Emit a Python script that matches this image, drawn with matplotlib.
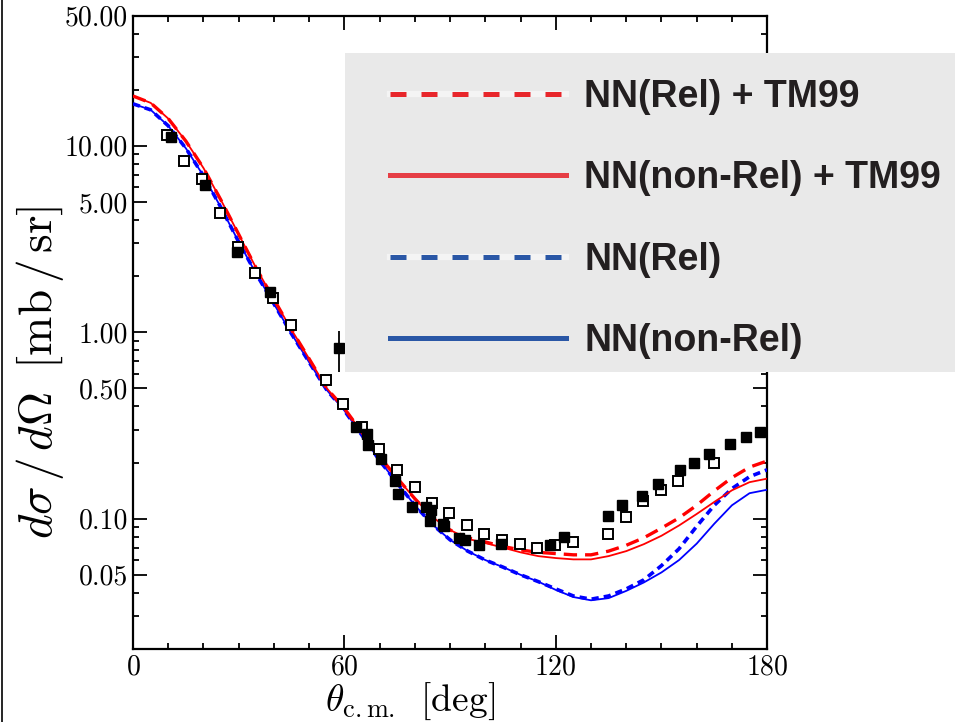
import matplotlib
matplotlib.use("Agg")
import matplotlib.pyplot as plt
from matplotlib.lines import Line2D
from matplotlib.patches import Rectangle
from matplotlib.ticker import LogLocator, NullFormatter, MultipleLocator

plt.rcParams['font.family'] = 'cmr10'
plt.rcParams['mathtext.fontset'] = 'cm'
plt.rcParams['axes.formatter.use_mathtext'] = True

# theory curves, every 5 degrees
theta = [0, 5, 10, 15, 20, 25, 30, 35, 40, 45, 50, 55, 60, 65, 70, 75, 80, 85, 90,
         95, 100, 105, 110, 115, 120, 125, 130, 135, 140, 145, 150, 155, 160, 165,
         170, 175, 180]
rel_tm99 = [18.5, 17.0, 14.0, 10.6, 7.6, 5.1, 3.35, 2.2, 1.5, 1.03, 0.72, 0.50, 0.39,
            0.29, 0.215, 0.165, 0.128, 0.102, 0.087, 0.079, 0.075, 0.071, 0.068, 0.066,
            0.065, 0.064, 0.064, 0.067, 0.072, 0.079, 0.089, 0.101, 0.118, 0.141,
            0.166, 0.189, 0.204]
nonrel_tm99 = [18.5, 17.0, 14.0, 10.6, 7.6, 5.1, 3.35, 2.2, 1.5, 1.03, 0.72, 0.50, 0.39,
               0.29, 0.215, 0.165, 0.128, 0.102, 0.087, 0.078, 0.074, 0.070, 0.066, 0.063,
               0.0615, 0.0605, 0.0605, 0.063, 0.067, 0.073, 0.081, 0.092, 0.106, 0.123,
               0.142, 0.157, 0.164]
rel = [16.8, 15.6, 12.8, 9.7, 6.9, 4.65, 3.05, 2.05, 1.42, 0.98, 0.69, 0.49, 0.38,
       0.28, 0.205, 0.155, 0.118, 0.093, 0.077, 0.067, 0.060, 0.055, 0.050, 0.046,
       0.042, 0.0385, 0.037, 0.0385, 0.042, 0.047, 0.056, 0.069, 0.091, 0.118,
       0.145, 0.168, 0.183]
nonrel = [16.8, 15.6, 12.8, 9.7, 6.9, 4.65, 3.05, 2.05, 1.42, 0.98, 0.69, 0.49, 0.38,
          0.28, 0.205, 0.155, 0.118, 0.093, 0.077, 0.067, 0.060, 0.055, 0.050, 0.046,
          0.0415, 0.038, 0.0365, 0.0375, 0.041, 0.0455, 0.0515, 0.060, 0.0735, 0.094,
          0.118, 0.137, 0.143]

# data, filled squares
fill_x = [10.8, 20.4, 29.5, 38.9, 63.3, 66.5, 66.6, 70.4, 74.5, 75.2, 79.2, 83.2,
          84.5, 84.3, 88.1, 88.3, 92.4, 94.3, 98.2, 104.5, 118.4, 122.4, 134.9,
          138.7, 144.6, 149.1, 155.2, 159.3, 163.4, 169.5, 174.1, 178.0]
fill_y = [11.2, 6.2, 2.71, 1.65, 0.310, 0.285, 0.250, 0.210, 0.159, 0.135, 0.115,
          0.116, 0.112, 0.097, 0.094, 0.091, 0.079, 0.077, 0.072, 0.073, 0.072,
          0.080, 0.103, 0.119, 0.133, 0.154, 0.183, 0.200, 0.223, 0.252, 0.274, 0.290]
# the one filled point with a big error bar
err_x = [58.5]
err_y = [0.82]
err_lo = [0.21]
err_hi = [0.20]

# data, open squares
open_x = [9.6, 14.6, 19.7, 24.7, 29.7, 34.6, 39.8, 44.8, 54.7, 59.7, 64.9, 69.8,
          74.9, 79.9, 84.8, 89.8, 94.7, 99.7, 104.8, 109.9, 114.8, 119.8, 124.8,
          134.9, 139.9, 144.9, 149.8, 154.8, 164.9]
open_y = [11.5, 8.27, 6.66, 4.37, 2.88, 2.08, 1.52, 1.09, 0.556, 0.414, 0.310, 0.236,
          0.183, 0.148, 0.122, 0.107, 0.093, 0.083, 0.077, 0.073, 0.070, 0.072,
          0.075, 0.083, 0.102, 0.125, 0.143, 0.159, 0.200]

ytick_vals = [0.05, 0.1, 0.5, 1, 5, 10, 50]
ytick_labels = ['0.05', '0.10', '0.50', '1.00', '5.00', '10.00', '50.00']
xtick_vals = [0, 60, 120, 180]

labels = ['NN(Rel) + TM99', 'NN(non-Rel) + TM99', 'NN(Rel)', 'NN(non-Rel)']

fig = plt.figure(figsize=(9.55, 7.22), dpi=100)
ax = fig.add_axes([0.1393, 0.1011, 0.664, 0.8774])

ax.plot(theta, nonrel, color='#0000ff', lw=1.3, zorder=3)
ax.plot(theta, rel, color='#0000ff', lw=2.6, dashes=(2.0, 1.4), zorder=3)
ax.plot(theta, nonrel_tm99, color='#ff0000', lw=1.3, zorder=3)
ax.plot(theta, rel_tm99, color='#ff0000', lw=2.4, dashes=(4.0, 2.4), zorder=3)

ax.plot(open_x, open_y, 's', ms=7.8, mfc='white', mec='black', mew=1.4, zorder=4)
ax.plot(fill_x, fill_y, 's', ms=7.8, mfc='black', mec='black', zorder=5)
ax.errorbar(err_x, err_y, yerr=[err_lo, err_hi], fmt='s', ms=7.8, color='black',
            elinewidth=1.3, capsize=0, zorder=5)

ax.set_yscale('log')
ax.set_xlim(0, 180)
ax.set_ylim(0.02, 50)
ax.set_xticks(xtick_vals)
ax.xaxis.set_minor_locator(MultipleLocator(10))
ax.set_yticks(ytick_vals, labels=ytick_labels)
ax.yaxis.set_minor_locator(LogLocator(base=10, subs=range(2, 10)))
ax.yaxis.set_minor_formatter(NullFormatter())

ax.tick_params(which='both', direction='in', top=True, right=True, width=1.3,
               labelsize=20, colors='black')
ax.tick_params(which='major', length=10)
ax.tick_params(which='minor', length=4)
ax.tick_params(axis='x', pad=4)
for s in ax.spines.values():
    s.set_linewidth(1.6)

ax.set_xlabel(r'$\theta_{\mathrm{c.m.}}\;\;[\mathrm{deg}]$', fontsize=27, va='top')
ax.xaxis.set_label_coords(0.437, -0.05)
ax.set_ylabel(r'$d\sigma\,/\,d\Omega\;\;[\mathrm{mb\,/\,sr}]$', fontsize=34, va='center')
ax.yaxis.set_label_coords(-0.147, 0.437)

# grey legend panel, pasted over the top right
fig.add_artist(Rectangle((345 / 955, 1 - 372 / 722), 0.7, (372 - 53) / 722,
                         transform=fig.transFigure, facecolor='#e9e9e9',
                         edgecolor='none', zorder=1))

bg = dict(color='#f4f4f4', lw=4.5)
handles = [
    (Line2D([], [], **bg), Line2D([], [], color='#e8262b', lw=3.6, dashes=(3.2, 3.0))),
    Line2D([], [], color='#e63e45', lw=3.6),
    (Line2D([], [], **bg), Line2D([], [], color='#2a57a6', lw=3.6, dashes=(3.2, 3.0))),
    Line2D([], [], color='#2a57a6', lw=3.6),
]
fig.legend(handles, labels, loc='upper left', bbox_to_anchor=(390 / 955, 1 - 79 / 722),
           bbox_transform=fig.transFigure, frameon=False, borderpad=0, borderaxespad=0,
           handlelength=4.7, handletextpad=0.48, labelspacing=1.21,
           prop={'family': 'Liberation Sans', 'weight': 'bold', 'size': 27},
           labelcolor='#231f20')

# edge of the neighbouring panel on the far left
fig.add_artist(Line2D([0.002, 0.002], [0, 1], transform=fig.transFigure, color='black', lw=1.2))

fig.savefig('out.png', dpi=100)
